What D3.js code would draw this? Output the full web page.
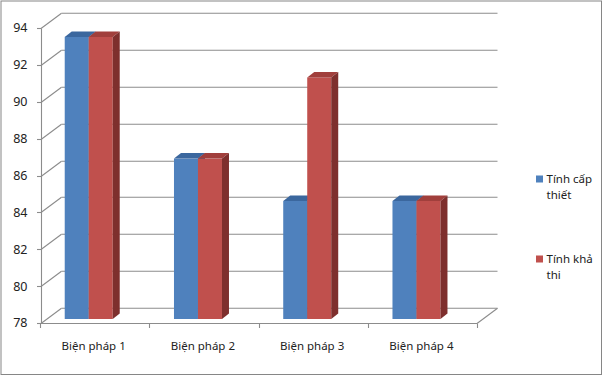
<!DOCTYPE html>
<html><head><meta charset="utf-8">
<script src="https://cdn.jsdelivr.net/npm/d3@7"></script>
<style>html,body{margin:0;padding:0;background:#fff;}svg{display:block;}</style>
</head><body>
<script>
const categories = ["Biện pháp 1", "Biện pháp 2", "Biện pháp 3", "Biện pháp 4"];
const seriesNames = ["Tính cấp thiết", "Tính khả thi"];
const capThiet = [93.3, 86.7, 84.4, 84.4];
const khaThi = [93.3, 86.7, 91.1, 84.4];
const yTicks = [78, 80, 82, 84, 86, 88, 90, 92, 94];
const legendLines = [["Tính cấp", "thiết"], ["Tính khả", "thi"]];

const W = 603, H = 376;
const colors = {
  front: ["#4f81bd", "#c0504d"],
  top: ["#3b679e", "#a13f3c"],
  side: ["#35598a", "#7e2f2d"]
};
const font = "'Noto Sans', sans-serif";

const svg = d3.select("body").append("svg").attr("width", W).attr("height", H);
svg.append("rect").attr("x", 1).attr("y", 1).attr("width", W - 2.5).attr("height", H - 2.5)
  .attr("fill", "#fff").attr("stroke", "#868686").attr("stroke-width", 1);

const y = d3.scaleLinear().domain([78, 94]).range([323, 28]);
const x = d3.scaleBand().domain(categories).range([40, 477]).paddingInner(0).paddingOuter(0);
const sub = d3.scaleBand().domain(seriesNames).range([0, 48]);

// wall depth offset
const DX = 20.5, DY = -15.3;
const axisX = 41;
const grid = svg.append("g").attr("fill", "none").attr("stroke", "#8c8c8c").attr("stroke-width", 1.1);

yTicks.forEach(t => {
  const yy = Math.round(y(t)) + 0.5;
  grid.append("line").attr("x1", axisX).attr("y1", yy).attr("x2", axisX + DX).attr("y2", yy + DY);
  grid.append("line").attr("x1", axisX + DX).attr("y1", yy + DY).attr("x2", 477 + DX).attr("y2", yy + DY);
  grid.append("line").attr("x1", axisX - 4).attr("y1", yy).attr("x2", axisX).attr("y2", yy);
});
// floor
const y0 = Math.round(y(78)) + 0.5;
grid.append("line").attr("x1", axisX).attr("y1", y0).attr("x2", 477).attr("y2", y0);
grid.append("line").attr("x1", 477).attr("y1", y0).attr("x2", 477 + DX).attr("y2", y0 + DY);
// left axis
grid.append("line").attr("x1", axisX + 0.5).attr("y1", Math.round(y(94)) + 0.5).attr("x2", axisX + 0.5).attr("y2", y0);
// x ticks
const xb = categories.map(c => x(c)).concat([x.range()[1]]);
xb.forEach(b => {
  const bx = Math.round(b) + 0.5;
  grid.append("line").attr("x1", bx).attr("y1", y0).attr("x2", bx).attr("y2", y0 + 4.5);
});

// y tick labels
svg.append("g").selectAll("text").data(yTicks).join("text")
  .attr("x", 27.5).attr("y", d => y(d)).attr("dy", "0.35em")
  .attr("text-anchor", "end").attr("font-family", font).attr("font-size", 12.5).attr("fill", "#222")
  .text(d => d);

// x labels
svg.append("g").selectAll("text").data(categories).join("text")
  .attr("x", d => x(d) + x.bandwidth() / 2 - 1).attr("y", 350)
  .attr("text-anchor", "middle").attr("font-family", font).attr("font-size", 11.5).attr("fill", "#222")
  .text(d => d);

// bars
const BDX = 5.3, BDY = -4;     // bar front-face depth offset
const DDX = 7, DDY = -5.5;     // bar depth
const groupShift = -11.2;
const bars = svg.append("g");
const series = [capThiet, khaThi];
categories.forEach((c, i) => {
  seriesNames.forEach((s, j) => {
    const v = series[j][i];
    const bw = sub.bandwidth();
    const x0 = x(c) + x.bandwidth() / 2 + BDX + groupShift - 24 + sub(s);
    const yt = y(v) + BDY;
    const yb = y(78) + BDY;
    const g = bars.append("g");
    g.append("rect").attr("x", x0).attr("y", yt).attr("width", bw).attr("height", yb - yt)
      .attr("fill", colors.front[j]);
    g.append("path").attr("d", `M${x0},${yt}L${x0 + bw},${yt}L${x0 + bw + DDX},${yt + DDY}L${x0 + DDX},${yt + DDY}Z`)
      .attr("fill", colors.top[j]);
    g.append("path").attr("d", `M${x0 + bw},${yt}L${x0 + bw + DDX},${yt + DDY}L${x0 + bw + DDX},${yb + DDY}L${x0 + bw},${yb}Z`)
      .attr("fill", colors.side[j]);
  });
});

// legend
const legend = svg.append("g");
const legY = [179, 259];
seriesNames.forEach((s, j) => {
  legend.append("rect").attr("x", 536).attr("y", legY[j] - 3.5).attr("width", 7).attr("height", 7)
    .attr("fill", colors.front[j]);
  legendLines[j].forEach((ln, k) => {
    legend.append("text").attr("x", 546.5).attr("y", legY[j] + k * 16).attr("dy", "0.35em")
      .attr("font-family", font).attr("font-size", 11.5).attr("fill", "#222").text(ln);
  });
});
</script>
</body></html>
